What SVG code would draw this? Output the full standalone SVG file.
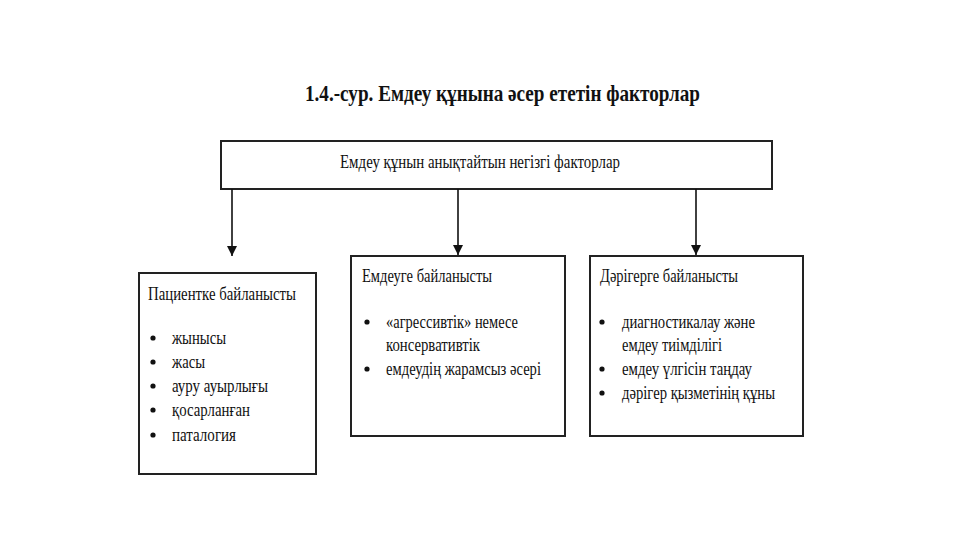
<svg xmlns="http://www.w3.org/2000/svg" width="960" height="540" viewBox="0 0 960 540">
<defs>
<style>
.box{fill:#fff;stroke:#222;stroke-width:2}
.t{font-family:"Liberation Serif","Times New Roman",serif;font-size:18px;fill:#111}
.title{font-family:"Liberation Serif","Times New Roman",serif;font-size:24px;font-weight:bold;fill:#111}
.conn{stroke:#111;stroke-width:1.6;fill:none}
.dot{fill:#111}
</style>
<marker id="arr" viewBox="0 0 10 10" refX="10" refY="5" markerWidth="10" markerHeight="10" markerUnits="userSpaceOnUse" orient="auto">
<path d="M0,0 L10,5 L0,10 Z" fill="#111"/>
</marker>
</defs>
<rect width="960" height="540" fill="#fff"/>
<text class="title" x="305" y="101" textLength="395" lengthAdjust="spacingAndGlyphs">1.4.-сур. Емдеу құнына әсер ететін факторлар</text>

<g id="top">
<rect class="box" x="221" y="141" width="551" height="48"/>
<text class="t" x="340" y="168" textLength="280" lengthAdjust="spacingAndGlyphs">Емдеу құнын анықтайтын негізгі факторлар</text>
</g>

<g id="connectors">
<line class="conn" x1="232" y1="189" x2="232" y2="256" marker-end="url(#arr)"/>
<line class="conn" x1="458" y1="189" x2="458" y2="255" marker-end="url(#arr)"/>
<line class="conn" x1="696" y1="189" x2="696" y2="255" marker-end="url(#arr)"/>
</g>

<g id="patient">
<rect class="box" x="139" y="273" width="177" height="201"/>
<text class="t" x="148" y="300" textLength="148" lengthAdjust="spacingAndGlyphs">Пациентке байланысты</text>
<circle class="dot" cx="153" cy="338" r="2.6"/>
<text class="t" x="172" y="344" textLength="54" lengthAdjust="spacingAndGlyphs">жынысы</text>
<circle class="dot" cx="153" cy="362" r="2.6"/>
<text class="t" x="172" y="368" textLength="33" lengthAdjust="spacingAndGlyphs">жасы</text>
<circle class="dot" cx="153" cy="386" r="2.6"/>
<text class="t" x="172" y="392" textLength="96" lengthAdjust="spacingAndGlyphs">ауру ауырлығы</text>
<circle class="dot" cx="153" cy="410" r="2.6"/>
<text class="t" x="172" y="416" textLength="78" lengthAdjust="spacingAndGlyphs">қосарланған</text>
<circle class="dot" cx="153" cy="435" r="2.6"/>
<text class="t" x="172" y="441" textLength="64" lengthAdjust="spacingAndGlyphs">паталогия</text>
</g>

<g id="treatment">
<rect class="box" x="351" y="256" width="214" height="180"/>
<text class="t" x="362" y="282" textLength="130" lengthAdjust="spacingAndGlyphs">Емдеуге байланысты</text>
<circle class="dot" cx="367" cy="322" r="2.6"/>
<text class="t" x="386" y="328" textLength="132" lengthAdjust="spacingAndGlyphs">«агрессивтік» немесе</text>
<text class="t" x="386" y="351" textLength="94" lengthAdjust="spacingAndGlyphs">консервативтік</text>
<circle class="dot" cx="367" cy="369" r="2.6"/>
<text class="t" x="386" y="375" textLength="155" lengthAdjust="spacingAndGlyphs">емдеудің жарамсыз әсері</text>
</g>

<g id="doctor">
<rect class="box" x="590" y="256" width="213" height="180"/>
<text class="t" x="600" y="282" textLength="138" lengthAdjust="spacingAndGlyphs">Дәрігерге байланысты</text>
<circle class="dot" cx="602" cy="322" r="2.6"/>
<text class="t" x="622" y="328" textLength="133" lengthAdjust="spacingAndGlyphs">диагностикалау және</text>
<text class="t" x="622" y="351" textLength="100" lengthAdjust="spacingAndGlyphs">емдеу тиімділігі</text>
<circle class="dot" cx="602" cy="369" r="2.6"/>
<text class="t" x="622" y="375" textLength="130" lengthAdjust="spacingAndGlyphs">емдеу үлгісін таңдау</text>
<circle class="dot" cx="602" cy="393" r="2.6"/>
<text class="t" x="622" y="399" textLength="153" lengthAdjust="spacingAndGlyphs">дәрігер қызметінің құны</text>
</g>
</svg>
